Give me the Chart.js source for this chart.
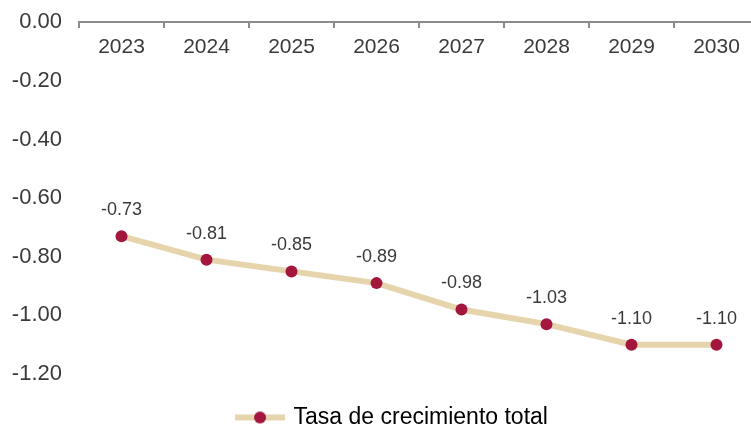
<!DOCTYPE html>
<html>
<head>
<meta charset="utf-8">
<script src="https://cdn.jsdelivr.net/npm/chart.js@4"></script>
<style>
  html, body { margin: 0; padding: 0; background: #fff; overflow: hidden; width: 751px; height: 429px; }
  canvas { display: block; }
</style>
</head>
<body>
<canvas id="chart" width="786" height="439"></canvas>
<script>
const years = ['2023', '2024', '2025', '2026', '2027', '2028', '2029', '2030'];
const growthRate = [-0.73, -0.81, -0.85, -0.89, -0.98, -1.03, -1.10, -1.10];
const seriesName = 'Tasa de crecimiento total';

const LINE = '#e6d4ad';
const DOT = '#a3173f';
const TEXT = '#3a3a3a';
const FONT = "'Liberation Sans', Arial, sans-serif";

// legend marker: line with a dot on it
const marker = document.createElement('canvas');
marker.width = 50;
marker.height = 14;
const mctx = marker.getContext('2d');
mctx.strokeStyle = LINE;
mctx.lineWidth = 6;
mctx.beginPath();
mctx.moveTo(0, 7);
mctx.lineTo(50, 7);
mctx.stroke();
mctx.fillStyle = DOT;
mctx.beginPath();
mctx.arc(25, 7, 6, 0, Math.PI * 2);
mctx.fill();

const valueLabels = {
    id: 'valueLabels',
    afterDatasetsDraw(chart) {
        const ctx = chart.ctx;
        const meta = chart.getDatasetMeta(0);
        ctx.save();
        ctx.font = '18px ' + FONT;
        ctx.fillStyle = TEXT;
        ctx.textAlign = 'center';
        ctx.textBaseline = 'middle';
        meta.data.forEach((pt, i) => {
            ctx.fillText(growthRate[i].toFixed(2), pt.x, pt.y - 26);
        });
        ctx.restore();
    }
};

new Chart(document.getElementById('chart'), {
    type: 'line',
    data: {
        labels: years,
        datasets: [{
            label: seriesName,
            data: growthRate,
            borderColor: LINE,
            borderWidth: 6,
            pointBackgroundColor: DOT,
            pointBorderColor: DOT,
            pointBorderWidth: 0,
            pointRadius: 6,
            tension: 0
        }]
    },
    options: {
        responsive: false,
        animation: false,
        layout: { padding: { top: 7 } },
        scales: {
            x: {
                position: { y: 0 },
                offset: true,
                grid: {
                    display: true,
                    drawOnChartArea: false,
                    offset: true,
                    tickLength: 5,
                    color: '#8c8c8c',
                    lineWidth: 2
                },
                border: { display: true, color: '#8c8c8c', width: 2 },
                ticks: {
                    color: TEXT,
                    font: { family: FONT, size: 21 },
                    padding: 7,
                    autoSkip: false,
                    maxRotation: 0
                }
            },
            y: {
                min: -1.2,
                max: 0,
                grid: { display: false },
                border: { display: false },
                ticks: {
                    stepSize: 0.2,
                    color: TEXT,
                    font: { family: FONT, size: 22 },
                    padding: 9,
                    callback: v => v.toFixed(2)
                },
                afterFit: s => { s.width = 79; }
            },
            spacer: {
                type: 'linear',
                position: 'right',
                display: true,
                grid: { display: false },
                border: { display: false },
                ticks: { display: false },
                afterFit: s => { s.width = 27; }
            }
        },
        plugins: {
            legend: {
                position: 'bottom',
                labels: {
                    usePointStyle: true,
                    pointStyleWidth: 44,
                    padding: 32,
                    color: TEXT,
                    font: { family: FONT, size: 23 },
                    generateLabels: () => [{
                        text: seriesName,
                        pointStyle: marker,
                        fillStyle: DOT,
                        strokeStyle: DOT,
                        lineWidth: 0,
                        hidden: false,
                        datasetIndex: 0
                    }]
                }
            },
            tooltip: { enabled: false }
        }
    },
    plugins: [valueLabels]
});
</script>
</body>
</html>
